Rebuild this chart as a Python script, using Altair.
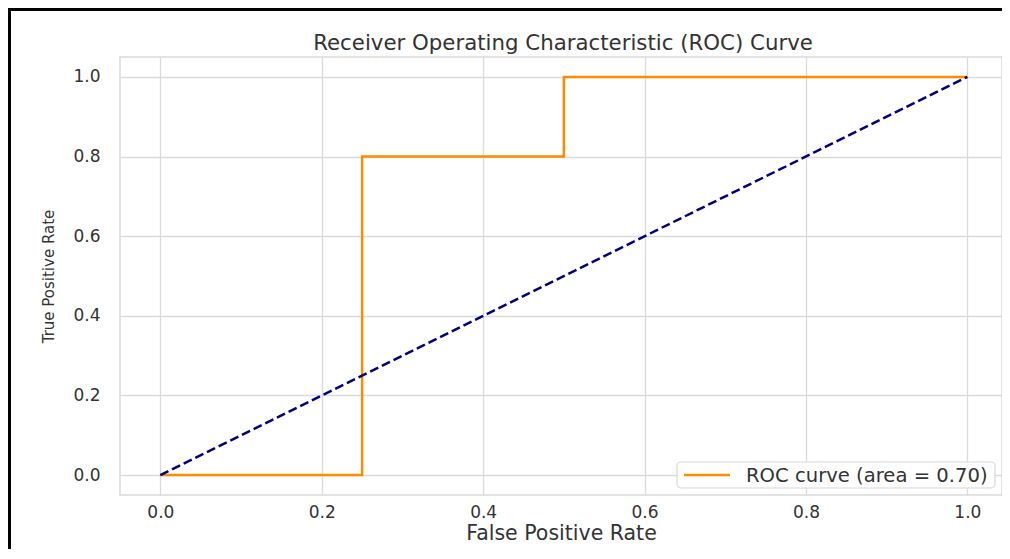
import altair as alt
import pandas as pd

# ROC curve data
fpr = [0.0, 0.25, 0.25, 0.5, 0.5, 1.0]
tpr = [0.0, 0.0, 0.8, 0.8, 1.0, 1.0]
diag_x = [0.0, 1.0]
diag_y = [0.0, 1.0]
roc_label = "ROC curve (area = 0.70)"
title_text = "Receiver Operating Characteristic (ROC) Curve"
tick_values = [0.0, 0.2, 0.4, 0.6, 0.8, 1.0]

roc_df = pd.DataFrame({"fpr": fpr, "tpr": tpr, "i": list(range(len(fpr)))})
diag_df = pd.DataFrame({"fpr": diag_x, "tpr": diag_y, "i": [0, 1]})

FONT = "DejaVu Sans"
TXT = "#333333"
GRID = "#dadada"
ORANGE = "#ff8c00"
NAVY = "#000080"
W, H = 882, 438

xscale = alt.Scale(domain=[-0.05, 1.0429], nice=False, zero=False)
yscale = alt.Scale(domain=[-0.05, 1.05], nice=False, zero=False)

xaxis = alt.Axis(values=tick_values, format=".1f", title="False Positive Rate", ticks=False,
                 domain=False, labelPadding=9, titlePadding=3, grid=True, titleFontSize=20.5)
yaxis = alt.Axis(values=tick_values, format=".1f", title="True Positive Rate", ticks=False,
                 domain=False, labelPadding=20, titlePadding=16, grid=True, titleFontSize=15)

roc = alt.Chart(roc_df).mark_line(strokeWidth=2.5, color=ORANGE, interpolate="linear").encode(
    x=alt.X("fpr:Q", scale=xscale, axis=xaxis),
    y=alt.Y("tpr:Q", scale=yscale, axis=yaxis),
    order=alt.Order("i:Q"),
)

diag = alt.Chart(diag_df).mark_line(strokeWidth=2.5, color=NAVY, strokeDash=[9, 4]).encode(
    x=alt.X("fpr:Q", scale=xscale),
    y=alt.Y("tpr:Q", scale=yscale),
    order=alt.Order("i:Q"),
)

title = alt.Chart(alt.Data(values=[{"t": title_text}])).mark_text(
    font=FONT, fontSize=21.3, color=TXT, align="center", baseline="alphabetic"
).encode(text="t:N", x=alt.value(443), y=alt.value(-7))

# legend box (matplotlib-style, lower right)
leg_box = alt.Chart(alt.Data(values=[{}])).mark_rect(
    fill="white", stroke="#d8d8d8", strokeWidth=1.2, cornerRadius=4
).encode(x=alt.value(557), x2=alt.value(875), y=alt.value(405), y2=alt.value(431))
leg_line = alt.Chart(alt.Data(values=[{}])).mark_rule(color=ORANGE, strokeWidth=2.5).encode(
    x=alt.value(564), x2=alt.value(610), y=alt.value(418)
)
leg_text = alt.Chart(alt.Data(values=[{"t": roc_label}])).mark_text(
    font=FONT, fontSize=19.6, color=TXT, align="left", baseline="middle"
).encode(text="t:N", x=alt.value(626), y=alt.value(418.5))

top_border = alt.Chart(alt.Data(values=[{}])).mark_rule(color="black", strokeWidth=3).encode(
    x=alt.value(-113), x2=alt.value(900), y=alt.value(-47.5)
)
left_border = alt.Chart(alt.Data(values=[{}])).mark_rule(color="black", strokeWidth=3).encode(
    x=alt.value(-110.5), y=alt.value(-49), y2=alt.value(510)
)

chart = alt.layer(roc, diag, leg_box, leg_line, leg_text, title, top_border, left_border).properties(
    width=W, height=H,
    background="white",
    autosize=alt.AutoSizeParams(type="none"),
    padding={"left": 112, "top": 49, "right": 0, "bottom": 54},
).configure_view(stroke=GRID, strokeWidth=1.5).configure_axis(
    gridColor=GRID, gridWidth=1.3, labelFont=FONT, labelFontSize=17, labelColor=TXT,
    titleFont=FONT, titleFontWeight="normal", titleColor=TXT,
)

chart.save("out.html", embed_options={"renderer": "svg", "actions": False})
